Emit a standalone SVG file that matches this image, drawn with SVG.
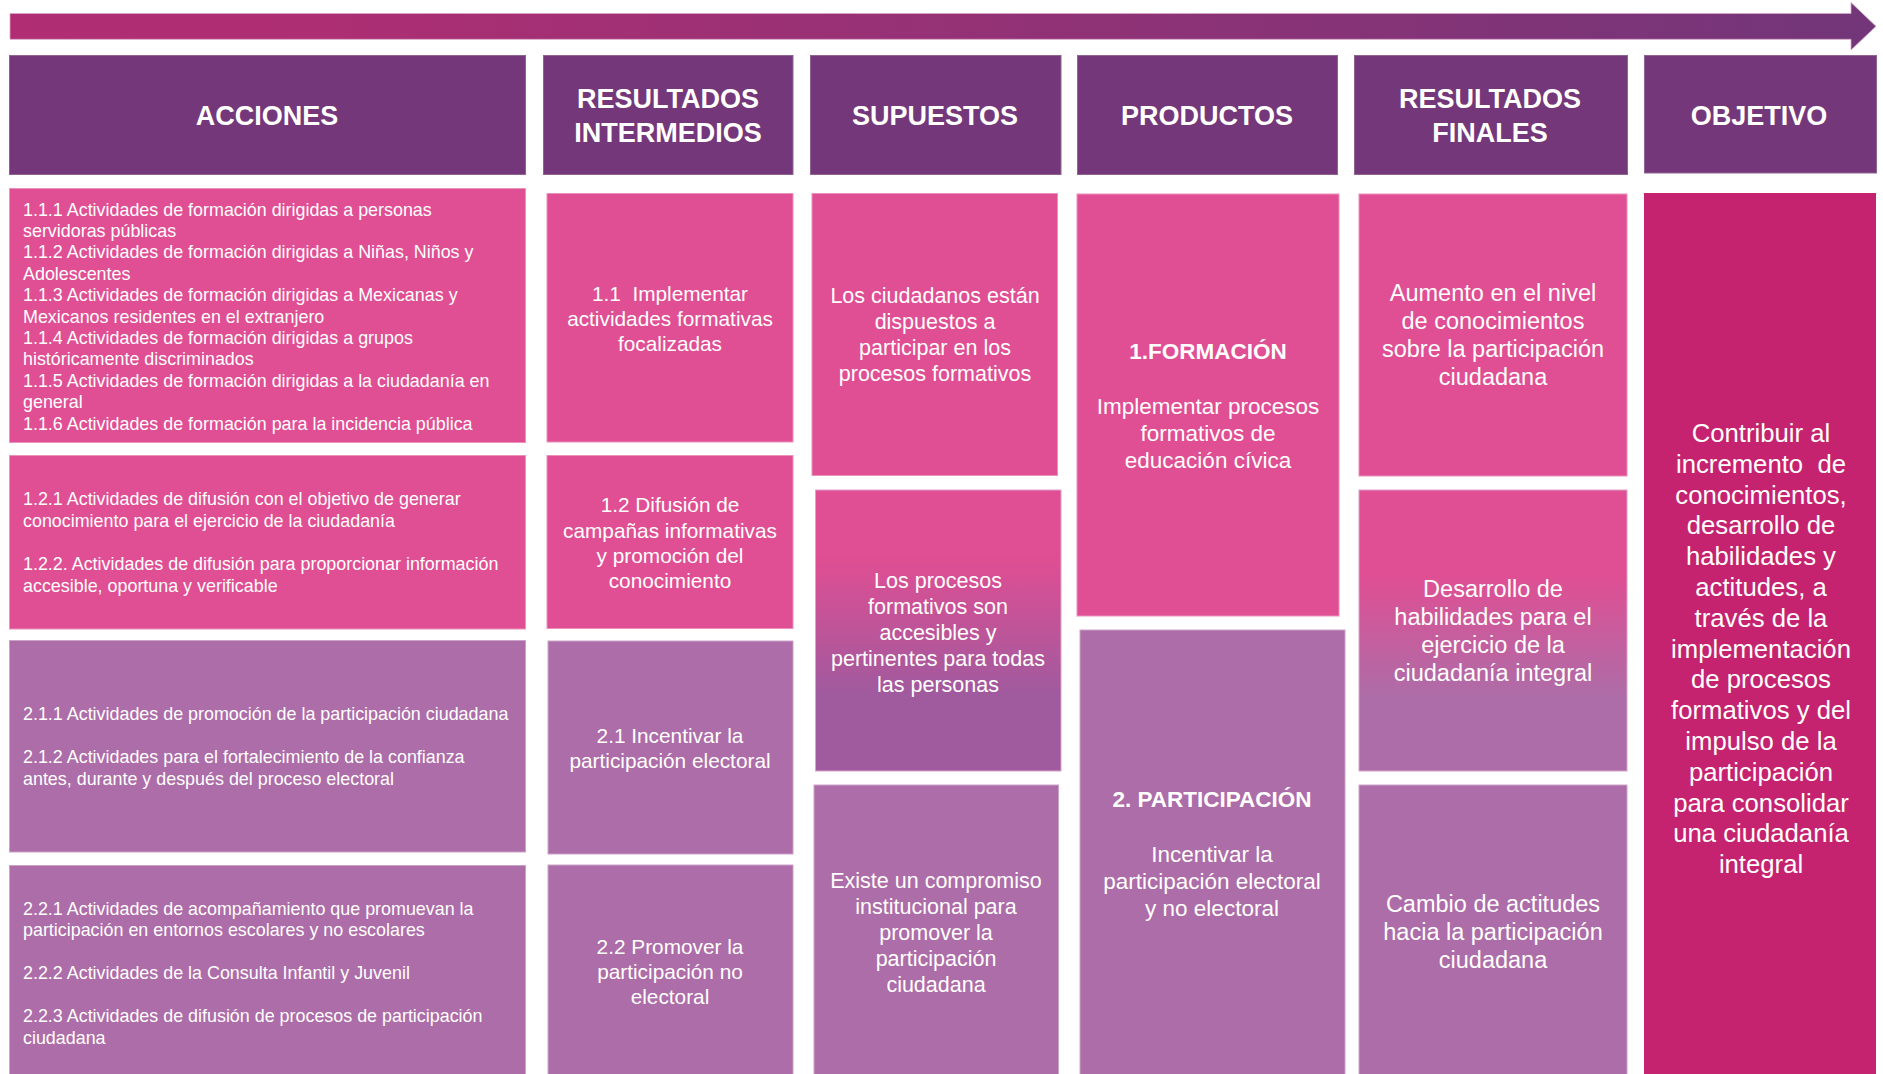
<svg xmlns="http://www.w3.org/2000/svg" width="1883" height="1074" viewBox="0 0 1883 1074">
<style>
.hdr{fill:#74387A;stroke:#8F6394;stroke-width:1}
.pk{fill:#E04E93;stroke:#EC90BC;stroke-width:1}
.pu{fill:#AD6DA8;stroke:#CBA3C8;stroke-width:1}
.ob{fill:#C52370}
text{font-family:"Liberation Sans",Arial,sans-serif;fill:#FFFFFF}
.ht{font-size:27px;font-weight:bold;text-anchor:middle}
.at{font-size:17.9px}
.ri{font-size:20.8px;text-anchor:middle}
.su{font-size:21.5px;text-anchor:middle}
.pr{font-size:22.5px;text-anchor:middle}
.prb{font-size:22.5px;font-weight:bold;text-anchor:middle}
.rf{font-size:23.5px;text-anchor:middle}
.obt{font-size:25.7px;text-anchor:middle}
.pre{white-space:pre}
</style>
<defs>
<linearGradient id="arrowGrad" x1="0" y1="0" x2="1" y2="0">
<stop offset="0" stop-color="#B02D73"/>
<stop offset="0.15" stop-color="#AE2E73"/>
<stop offset="1" stop-color="#723679"/>
</linearGradient>
<linearGradient id="supGrad" x1="0" y1="0" x2="0" y2="1">
<stop offset="0.24" stop-color="#E04E93"/>
<stop offset="0.73" stop-color="#A05A9E"/>
</linearGradient>
<linearGradient id="rfGrad" x1="0" y1="0" x2="0" y2="1">
<stop offset="0.3" stop-color="#E04E93"/>
<stop offset="0.74" stop-color="#AD6DA8"/>
</linearGradient>
</defs>

<g id="timeline-arrow">
<path d="M10 13.5 H1851 V2.5 L1876 26.3 L1851 50 V39.3 H10 Z" fill="url(#arrowGrad)" stroke="#D7A6C6" stroke-width="0.8"/>
</g>

<g id="headers">
<g id="h-acciones"><rect class="hdr" x="9.5" y="55.5" width="516" height="119"/><text class="ht" x="267" y="125">ACCIONES</text></g>
<g id="h-intermedios"><rect class="hdr" x="543.5" y="55.5" width="249.5" height="119"/><text class="ht" x="668" y="108">RESULTADOS</text><text class="ht" x="668" y="142">INTERMEDIOS</text></g>
<g id="h-supuestos"><rect class="hdr" x="810.5" y="55.5" width="250.5" height="119"/><text class="ht" x="935" y="125">SUPUESTOS</text></g>
<g id="h-productos"><rect class="hdr" x="1077.5" y="55.5" width="260" height="119"/><text class="ht" x="1207" y="125">PRODUCTOS</text></g>
<g id="h-finales"><rect class="hdr" x="1354.5" y="55.5" width="273" height="119"/><text class="ht" x="1490" y="108">RESULTADOS</text><text class="ht" x="1490" y="142">FINALES</text></g>
<g id="h-objetivo"><rect class="hdr" x="1644.5" y="55.5" width="232" height="117.5"/><text class="ht" x="1759" y="125">OBJETIVO</text></g>
</g>

<g id="connectors"></g>

<g id="acc-1-1">
<rect class="pk" x="9.5" y="188.5" width="516" height="254"/>
<text class="at" x="23">
<tspan x="23" y="215.5">1.1.1 Actividades de formación dirigidas a personas</tspan>
<tspan x="23" y="237">servidoras públicas</tspan>
<tspan x="23" y="258.4">1.1.2 Actividades de formación dirigidas a Niñas, Niños y</tspan>
<tspan x="23" y="279.8">Adolescentes</tspan>
<tspan x="23" y="301.2">1.1.3 Actividades de formación dirigidas a Mexicanas y</tspan>
<tspan x="23" y="322.6">Mexicanos residentes en el extranjero</tspan>
<tspan x="23" y="344">1.1.4 Actividades de formación dirigidas a grupos</tspan>
<tspan x="23" y="365.4">históricamente discriminados</tspan>
<tspan x="23" y="386.8">1.1.5 Actividades de formación dirigidas a la ciudadanía en</tspan>
<tspan x="23" y="408.2">general</tspan>
<tspan x="23" y="429.6">1.1.6 Actividades de formación para la incidencia pública</tspan>
</text>
</g>
<g id="acc-1-2">
<rect class="pk" x="9.5" y="455.5" width="516" height="173.5"/>
<text class="at">
<tspan x="23" y="505">1.2.1 Actividades de difusión con el objetivo de generar</tspan>
<tspan x="23" y="526.5">conocimiento para el ejercicio de la ciudadanía</tspan>
<tspan x="23" y="570">1.2.2. Actividades de difusión para proporcionar información</tspan>
<tspan x="23" y="591.5">accesible, oportuna y verificable</tspan>
</text>
</g>
<g id="acc-2-1">
<rect class="pu" x="9.5" y="640.5" width="516" height="211.5"/>
<text class="at">
<tspan x="23" y="719.5">2.1.1 Actividades de promoción de la participación ciudadana</tspan>
<tspan x="23" y="763">2.1.2 Actividades para el fortalecimiento de la confianza</tspan>
<tspan x="23" y="784.5">antes, durante y después del proceso electoral</tspan>
</text>
</g>
<g id="acc-2-2">
<rect class="pu" x="9.5" y="865.5" width="516" height="215"/>
<text class="at">
<tspan x="23" y="914.5">2.2.1 Actividades de acompañamiento que promuevan la</tspan>
<tspan x="23" y="936">participación en entornos escolares y no escolares</tspan>
<tspan x="23" y="979">2.2.2 Actividades de la Consulta Infantil y Juvenil</tspan>
<tspan x="23" y="1022">2.2.3 Actividades de difusión de procesos de participación</tspan>
<tspan x="23" y="1043.5">ciudadana</tspan>
</text>
</g>

<g id="ri-1-1">
<rect class="pk" x="547" y="193.5" width="246" height="248.5"/>
<text class="ri"><tspan class="pre" x="670" y="300.5">1.1  Implementar</tspan><tspan x="670" y="325.5">actividades formativas</tspan><tspan x="670" y="350.5">focalizadas</tspan></text>
</g>
<g id="ri-1-2">
<rect class="pk" x="547" y="455.5" width="246" height="173"/>
<text class="ri"><tspan x="670" y="512">1.2 Difusión de</tspan><tspan x="670" y="537.5">campañas informativas</tspan><tspan x="670" y="562.5">y promoción del</tspan><tspan x="670" y="587.5">conocimiento</tspan></text>
</g>
<g id="ri-2-1">
<rect class="pu" x="548" y="641" width="245" height="213"/>
<text class="ri"><tspan x="670" y="743">2.1 Incentivar la</tspan><tspan x="670" y="768">participación electoral</tspan></text>
</g>
<g id="ri-2-2">
<rect class="pu" x="548" y="865" width="245" height="215"/>
<text class="ri"><tspan x="670" y="954">2.2 Promover la</tspan><tspan x="670" y="979">participación no</tspan><tspan x="670" y="1004">electoral</tspan></text>
</g>

<g id="sup-1">
<rect class="pk" x="812" y="193.5" width="245.5" height="282"/>
<text class="su"><tspan x="935" y="303">Los ciudadanos están</tspan><tspan x="935" y="329">dispuestos a</tspan><tspan x="935" y="355">participar en los</tspan><tspan x="935" y="381">procesos formativos</tspan></text>
</g>
<g id="sup-2">
<rect x="815.5" y="490" width="245.5" height="281" fill="url(#supGrad)" stroke="#D9A3CB" stroke-width="1"/>
<text class="su"><tspan x="938" y="588">Los procesos</tspan><tspan x="938" y="614">formativos son</tspan><tspan x="938" y="640">accesibles y</tspan><tspan x="938" y="666">pertinentes para todas</tspan><tspan x="938" y="692">las personas</tspan></text>
</g>
<g id="sup-3">
<rect class="pu" x="814" y="785" width="244.5" height="295"/>
<text class="su"><tspan x="936" y="888">Existe un compromiso</tspan><tspan x="936" y="914">institucional para</tspan><tspan x="936" y="940">promover la</tspan><tspan x="936" y="966">participación</tspan><tspan x="936" y="992">ciudadana</tspan></text>
</g>

<g id="prod-1">
<rect class="pk" x="1077" y="194" width="262" height="422"/>
<text class="prb" x="1208" y="359">1.FORMACIÓN</text>
<text class="pr"><tspan x="1208" y="414">Implementar procesos</tspan><tspan x="1208" y="441">formativos de</tspan><tspan x="1208" y="468">educación cívica</tspan></text>
</g>
<g id="prod-2">
<rect class="pu" x="1080" y="630" width="265" height="450"/>
<text class="prb" x="1212" y="807">2. PARTICIPACIÓN</text>
<text class="pr"><tspan x="1212" y="862">Incentivar la</tspan><tspan x="1212" y="889">participación electoral</tspan><tspan x="1212" y="916">y no electoral</tspan></text>
</g>

<g id="rf-1">
<rect class="pk" x="1359" y="194" width="268" height="282"/>
<text class="rf"><tspan x="1493" y="301">Aumento en el nivel</tspan><tspan x="1493" y="329">de conocimientos</tspan><tspan x="1493" y="357">sobre la participación</tspan><tspan x="1493" y="385">ciudadana</tspan></text>
</g>
<g id="rf-2">
<rect x="1359" y="490" width="268" height="281" fill="url(#rfGrad)" stroke="#D9A3CB" stroke-width="1"/>
<text class="rf"><tspan x="1493" y="597">Desarrollo de</tspan><tspan x="1493" y="625">habilidades para el</tspan><tspan x="1493" y="653">ejercicio de la</tspan><tspan x="1493" y="681">ciudadanía integral</tspan></text>
</g>
<g id="rf-3">
<rect class="pu" x="1359" y="785" width="268" height="295"/>
<text class="rf"><tspan x="1493" y="912">Cambio de actitudes</tspan><tspan x="1493" y="940">hacia la participación</tspan><tspan x="1493" y="968">ciudadana</tspan></text>
</g>

<g id="objetivo">
<rect class="ob" x="1644" y="193" width="232" height="887"/>
<text class="obt"><tspan x="1761" y="442">Contribuir al</tspan><tspan class="pre" x="1761" y="472.8">incremento  de</tspan><tspan x="1761" y="503.6">conocimientos,</tspan><tspan x="1761" y="534.4">desarrollo de</tspan><tspan x="1761" y="565.2">habilidades y</tspan><tspan x="1761" y="596">actitudes, a</tspan><tspan x="1761" y="626.8">través de la</tspan><tspan x="1761" y="657.6">implementación</tspan><tspan x="1761" y="688.4">de procesos</tspan><tspan x="1761" y="719.2">formativos y del</tspan><tspan x="1761" y="750">impulso de la</tspan><tspan x="1761" y="780.8">participación</tspan><tspan x="1761" y="811.6">para consolidar</tspan><tspan x="1761" y="842.4">una ciudadanía</tspan><tspan x="1761" y="873.2">integral</tspan></text>
</g>
</svg>
